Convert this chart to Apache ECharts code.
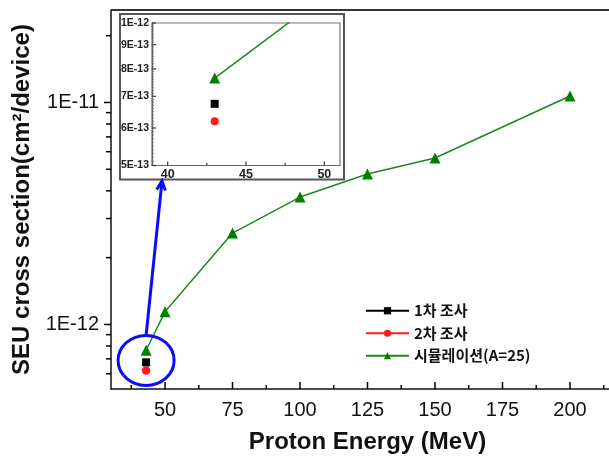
<!DOCTYPE html>
<html><head><meta charset="utf-8">
<script src="https://cdn.jsdelivr.net/npm/echarts@6/dist/echarts.min.js"></script>
<style>html,body{margin:0;padding:0;background:#fff;overflow:hidden}#c{width:609px;height:457px}</style>
</head><body><div id="c"></div>
<script>
// ---- data ----
const seriesNames = ['1차 조사', '2차 조사', '시뮬레이션(A=25)'];
const measuredEnergy = [43];
const survey1 = [6.75e-13];
const survey2 = [6.2e-13];
const simEnergy = [43, 50, 75, 100, 125, 150, 200];
const simValues = [7.65e-13, 1.14e-12, 2.58e-12, 3.75e-12, 4.76e-12, 5.62e-12, 1.07e-11];
// ---- tick labels ----
const xTicks = [50, 75, 100, 125, 150, 175, 200];
const xMinorTicks = [37.5, 62.5, 87.5, 112.5, 137.5, 162.5, 187.5, 212.5];
const yTicks = [1e-12, 1e-11];
const yMinorTicks = [6e-13, 7e-13, 8e-13, 9e-13, 2e-12, 3e-12, 4e-12, 5e-12, 6e-12, 7e-12, 8e-12, 9e-12, 2e-11];
const insetXTicks = [40, 45, 50];
const insetXMinorTicks = [42.5, 47.5];
const insetYTicks = [5e-13, 6e-13, 7e-13, 8e-13, 9e-13, 1e-12];
const insetYMinorTicks = [];
for (let k = 1; k < 50; k++) insetYMinorTicks.push(5e-13 + k * 1e-14);

function sci(v) {
  const e = Math.floor(Math.log10(v) + 1e-9);
  const m = Math.round(v / Math.pow(10, e));
  return m + 'E' + e;
}
const pairs = (xs, ys) => xs.map((x, i) => [x, ys[i]]);

const LAT = '"Liberation Sans", Arial, sans-serif';
const KR = '"Noto Sans CJK KR", sans-serif';

const chart = echarts.init(document.getElementById('c'), null, {renderer: 'canvas'});

const mainX = {min: 30, max: 220};
const mainY = {min: 5.12e-13, max: 2.61e-11};
const insX = {min: 39, max: 51};
const insY = {min: 5e-13, max: 1e-12};

// tick marks drawn through the axes' own scales (custom series)
function xTickSeries(axisIdx, ticks, yBase, len, color, width) {
  return {type: 'custom', xAxisIndex: axisIdx, yAxisIndex: axisIdx, silent: true, clip: false, z: 6,
    data: ticks.map(v => [v, yBase]),
    renderItem: (params, api) => {
      const p = api.coord([api.value(0), yBase]);
      return {type: 'line', shape: {x1: p[0], y1: p[1], x2: p[0], y2: p[1] - len},
              style: {stroke: color, lineWidth: width}};
    }};
}
function yTickSeries(axisIdx, ticks, xBase, len, color, width) {
  // len > 0 : outward (left); len < 0 : inward (right)
  return {type: 'custom', xAxisIndex: axisIdx, yAxisIndex: axisIdx, silent: true, clip: false, z: 6,
    data: ticks.map(v => [xBase, v]),
    renderItem: (params, api) => {
      const p = api.coord([xBase, api.value(1)]);
      return {type: 'line', shape: {x1: p[0], y1: p[1], x2: p[0] - len, y2: p[1]},
              style: {stroke: color, lineWidth: width}};
    }};
}

const option = {
  animation: false,
  backgroundColor: '#fff',
  grid: [
    {left: 111, top: 10, width: 513, bottom: 68, outerBoundsMode: 'none', containLabel: false, show: false},
    {left: 152, top: 23, width: 188, height: 142.5, outerBoundsMode: 'none', containLabel: false,
     show: true, borderColor: '#777', borderWidth: 1.2, backgroundColor: 'transparent'}
  ],
  xAxis: [
    {type: 'value', gridIndex: 0, position: 'bottom', ...mainX,
     axisLine: {show: true, lineStyle: {color: '#111', width: 1.5}},
     axisTick: {show: false},
     axisLabel: {customValues: xTicks, fontFamily: LAT, fontSize: 20, color: '#111', margin: 11},
     splitLine: {show: false},
     name: 'Proton Energy (MeV)', nameLocation: 'middle', nameGap: 41,
     nameTextStyle: {fontFamily: LAT, fontWeight: 'bold', fontSize: 24, color: '#111'}},
    {type: 'value', gridIndex: 1, position: 'bottom', ...insX,
     axisLine: {show: true, lineStyle: {color: '#666', width: 1.2}},
     axisTick: {show: false},
     axisLabel: {customValues: insetXTicks, fontFamily: LAT, fontWeight: 'bold', fontSize: 12.5, color: '#222', margin: 3},
     splitLine: {show: false}}
  ],
  yAxis: [
    {type: 'log', gridIndex: 0, position: 'left', ...mainY,
     axisLine: {show: true, lineStyle: {color: '#111', width: 1.5}},
     axisTick: {show: false},
     axisLabel: {customValues: yTicks, formatter: sci, fontFamily: LAT, fontSize: 20, color: '#111', margin: 12},
     splitLine: {show: false},
     name: 'SEU cross section(cm²/device)', nameLocation: 'middle', nameGap: 76, nameRotate: 90,
     nameTextStyle: {fontFamily: LAT, fontWeight: 'bold', fontSize: 24, color: '#111'}},
    {type: 'log', gridIndex: 1, position: 'left', ...insY,
     axisLine: {show: true, lineStyle: {color: '#666', width: 1.2}},
     axisTick: {show: false},
     axisLabel: {customValues: insetYTicks, formatter: sci, fontFamily: LAT, fontWeight: 'bold', fontSize: 10.5, color: '#222', margin: 3},
     splitLine: {show: false}}
  ],
  legend: {
    orient: 'vertical', left: 360, top: 297, itemWidth: 43, itemHeight: 9, itemGap: 5,
    data: seriesNames,
    textStyle: {fontFamily: KR, fontWeight: 'bold', fontSize: 15, color: '#111', lineHeight: 17.5}
  },
  series: [
    {name: seriesNames[0], type: 'line', xAxisIndex: 0, yAxisIndex: 0, data: pairs(measuredEnergy, survey1),
     symbol: 'rect', symbolSize: 8, color: '#000', lineStyle: {color: '#000', width: 1.5}, itemStyle: {color: '#000'}, z: 4},
    {name: seriesNames[1], type: 'line', xAxisIndex: 0, yAxisIndex: 0, data: pairs(measuredEnergy, survey2),
     symbol: 'circle', symbolSize: 8.5, color: '#ff1a1a', lineStyle: {color: '#ff1a1a', width: 1.5}, itemStyle: {color: '#ff1a1a'}, z: 3},
    {name: seriesNames[2], type: 'line', xAxisIndex: 0, yAxisIndex: 0, data: pairs(simEnergy, simValues),
     symbol: 'triangle', symbolSize: 11, color: '#008000', lineStyle: {color: '#1a8a1a', width: 1.5}, itemStyle: {color: '#008000'}, z: 5},
    {name: seriesNames[0], type: 'line', xAxisIndex: 1, yAxisIndex: 1, data: pairs(measuredEnergy, survey1),
     symbol: 'rect', symbolSize: 8, itemStyle: {color: '#000'}, lineStyle: {color: '#000'}, clip: true},
    {name: seriesNames[1], type: 'line', xAxisIndex: 1, yAxisIndex: 1, data: pairs(measuredEnergy, survey2),
     symbol: 'circle', symbolSize: 8, itemStyle: {color: '#ff1a1a'}, lineStyle: {color: '#ff1a1a'}, clip: true},
    {name: seriesNames[2], type: 'line', xAxisIndex: 1, yAxisIndex: 1, data: pairs(simEnergy, simValues),
     symbol: 'triangle', symbolSize: 11, itemStyle: {color: '#008000'}, lineStyle: {color: '#1a8a1a', width: 1.5}, clip: true},
    xTickSeries(0, xTicks, mainY.min, 7, '#000', 1.5),
    xTickSeries(0, xMinorTicks, mainY.min, 4, '#000', 1.5),
    yTickSeries(0, yTicks, mainX.min, 7, '#000', 1.5),
    yTickSeries(0, yMinorTicks, mainX.min, 5, '#000', 1.5),
    xTickSeries(1, insetXTicks, insY.min, 4, '#333', 1.2),
    xTickSeries(1, insetXMinorTicks, insY.min, 2.5, '#333', 1.2),
    yTickSeries(1, insetYTicks, insX.min, -4, '#333', 1.2),
    yTickSeries(1, insetYMinorTicks, insX.min, -2, '#666', 0.8)
  ]
};
chart.setOption(option);

// frame top line, inset outer box and blue annotation (positions derived from the axes)
const mTL = chart.convertToPixel({xAxisIndex: 0, yAxisIndex: 0}, [mainX.min, mainY.max]);
const mTR = chart.convertToPixel({xAxisIndex: 0, yAxisIndex: 0}, [mainX.max, mainY.max]);
const insTL = chart.convertToPixel({xAxisIndex: 1, yAxisIndex: 1}, [insX.min, insY.max]);
const insBR = chart.convertToPixel({xAxisIndex: 1, yAxisIndex: 1}, [insX.max, insY.min]);
const boxX = insTL[0] - 32, boxY = insTL[1] - 9, boxW = (insBR[0] - insTL[0]) + 36, boxH = (insBR[1] - insTL[1]) + 23;
const pTri = chart.convertToPixel({xAxisIndex: 0, yAxisIndex: 0}, [simEnergy[0], simValues[0]]);
const pCir = chart.convertToPixel({xAxisIndex: 0, yAxisIndex: 0}, [measuredEnergy[0], survey2[0]]);
const cx = pTri[0], cy = (pTri[1] + pCir[1]) / 2, rx = 28, ry = 25;
const a0 = [cx, cy - ry];
const a1 = [insTL[0] + 10, boxY + boxH + 1.5];
const ang = Math.atan2(a1[1] - a0[1], a1[0] - a0[0]);
const hl = 10, ha = 0.45;
const h1 = [a1[0] - hl * Math.cos(ang - ha), a1[1] - hl * Math.sin(ang - ha)];
const h2 = [a1[0] - hl * Math.cos(ang + ha), a1[1] - hl * Math.sin(ang + ha)];
chart.setOption({
  graphic: [
    {type: 'line', shape: {x1: mTL[0], y1: mTL[1], x2: mTR[0], y2: mTR[1]}, style: {stroke: '#333', lineWidth: 2}, z: 1},
    {type: 'rect', shape: {x: boxX, y: boxY, width: boxW, height: boxH}, style: {fill: 'none', stroke: '#555', lineWidth: 2}, z: 1},
    {type: 'ellipse', shape: {cx: cx, cy: cy, rx: rx, ry: ry}, style: {fill: 'none', stroke: '#0a0aff', lineWidth: 3}, z: 100},
    {type: 'line', shape: {x1: a0[0], y1: a0[1], x2: a1[0], y2: a1[1]}, style: {stroke: '#0a0aff', lineWidth: 3}, z: 100},
    {type: 'polyline', shape: {points: [h1, a1, h2]}, style: {fill: 'none', stroke: '#0a0aff', lineWidth: 3}, z: 100}
  ]
});
</script></body></html>
